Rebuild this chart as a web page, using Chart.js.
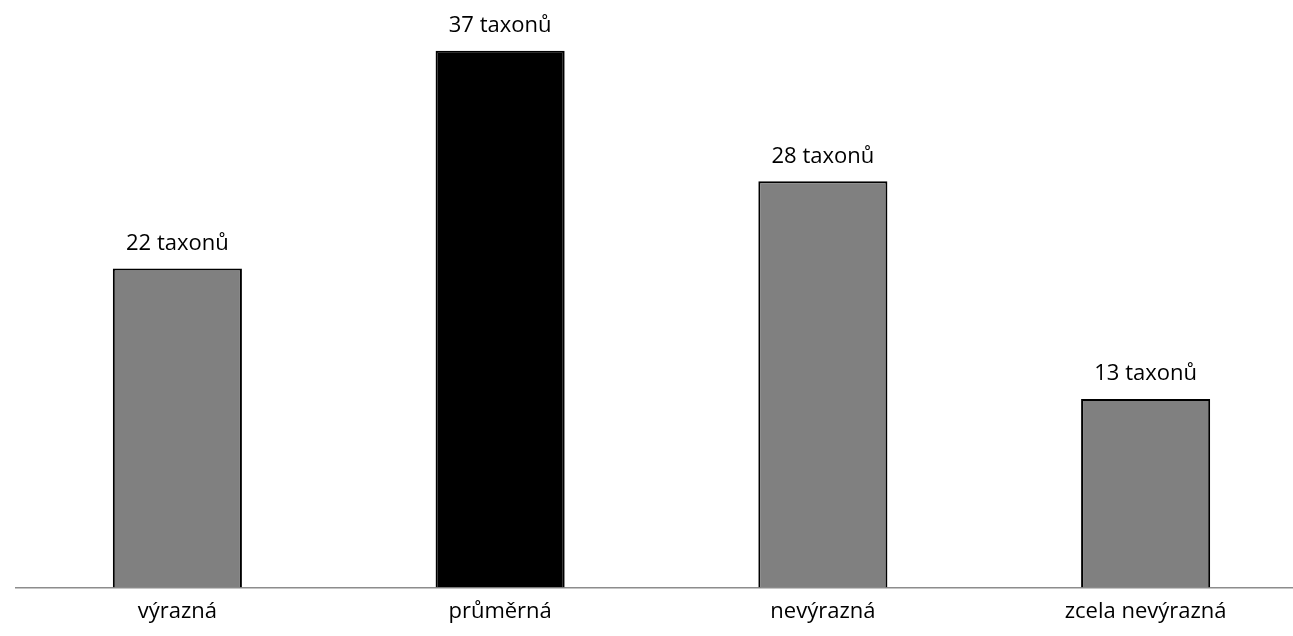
<!DOCTYPE html>
<html>
<head>
<meta charset="utf-8">
<script src="https://cdn.jsdelivr.net/npm/chart.js@4"></script>
<style>
    html, body { margin: 0; padding: 0; background: #fff; overflow: hidden; }
    #wrap { width: 1307px; height: 636px; }
</style>
</head>
<body>
<div id="wrap"><canvas id="chart"></canvas></div>
<script>
// Data
const categories = ['výrazná', 'průměrná', 'nevýrazná', 'zcela nevýrazná'];
const taxonCounts = [22, 37, 28, 13];
const barColors = ['#808080', '#000000', '#808080', '#808080'];

const fontFamily = '"Open Sans", sans-serif';

// Value labels above bars
const valueLabels = {
    id: 'valueLabels',
    afterDatasetsDraw(chart) {
        const ctx = chart.ctx;
        const meta = chart.getDatasetMeta(0);
        ctx.save();
        ctx.font = '22px ' + fontFamily;
        ctx.fillStyle = '#000';
        ctx.textAlign = 'center';
        ctx.textBaseline = 'middle';
        meta.data.forEach((bar, i) => {
            ctx.fillText(taxonCounts[i] + ' taxonů', bar.x, bar.y - 25);
        });
        ctx.restore();
    }
};

const ctx = document.getElementById('chart').getContext('2d');
new Chart(ctx, {
    type: 'bar',
    data: {
        labels: categories,
        datasets: [{
            data: taxonCounts,
            backgroundColor: barColors,
            borderColor: '#000',
            borderWidth: 2,
            borderSkipped: 'bottom',
            barPercentage: 0.4,
            categoryPercentage: 1
        }]
    },
    options: {
        responsive: true,
        maintainAspectRatio: false,
        animation: false,
        layout: { padding: { left: 16, right: 0, top: 0, bottom: 0 } },
        plugins: {
            legend: { display: false },
            tooltip: { enabled: false }
        },
        scales: {
            y: {
                display: false,
                min: 0,
                max: 40.5
            },
            x: {
                grid: { display: false, drawTicks: false },
                border: { display: true, color: '#8c8c8c', width: 1.5 },
                ticks: {
                    color: '#000',
                    padding: 11,
                    maxRotation: 0,
                    font: { size: 22, family: fontFamily }
                }
            }
        }
    },
    plugins: [valueLabels]
});
</script>
</body>
</html>
